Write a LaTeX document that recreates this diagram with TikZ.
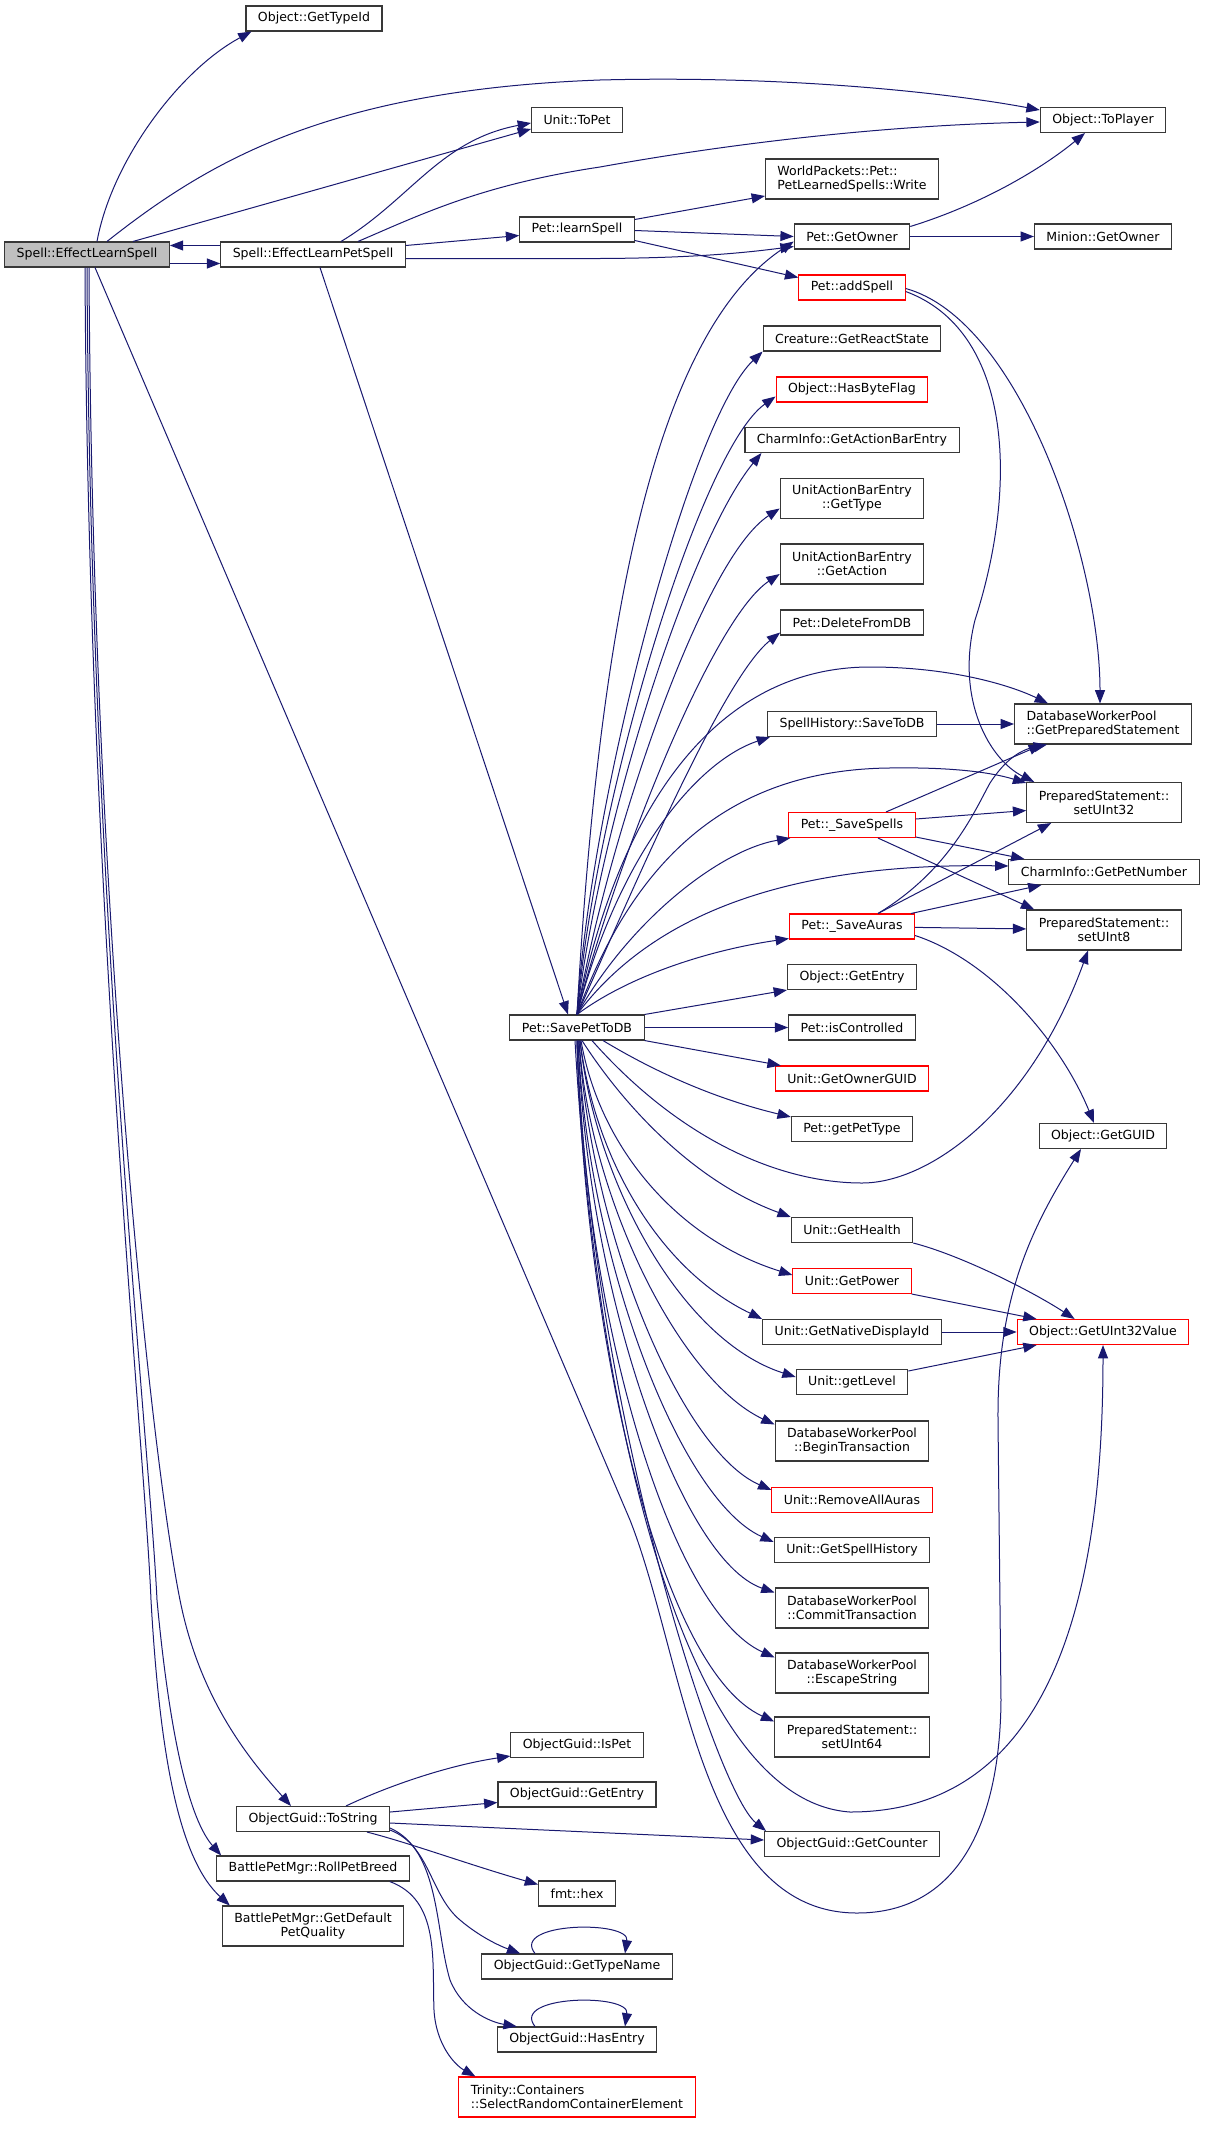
\documentclass[tikz,border=0pt]{standalone}
\usepackage{fontspec}
\setmainfont{DejaVu Sans}
\usetikzlibrary{arrows.meta}
\usetikzlibrary{calc}
\definecolor{edgeBlue}{RGB}{25,25,112}
\definecolor{boxGray}{RGB}{56,56,56}
\definecolor{rootFill}{RGB}{191,191,191}

\begin{document}
\begin{tikzpicture}[x=0.75pt,y=-0.75pt,
  fn/.style={draw=boxGray, fill=white, line width=0.8pt, inner xsep=9pt, inner ysep=2pt, minimum height=18.75pt, font=\fontsize{9.4}{10.5}\selectfont, align=center},
  fnred/.style={fn, draw=red},
  fnroot/.style={fn, fill=rootFill},
  twoline/.style={minimum height=30pt},
  call/.style={draw=edgeBlue, line width=0.75pt, -{Triangle[length=10pt,width=7.5pt]}},
]
\fill [white] (0,0) rectangle (1205,2134);

% column 1 and 2
\node [fnroot] (els) at (87,254.5) {Spell::EffectLearnSpell};
\node [fn] (gettypeid) at (314,18.5) {Object::GetTypeId};
\node [fn] (elps) at (313,254.5) {Spell::EffectLearnPetSpell};
\node [fn] (tostring) at (313,1819) {ObjectGuid::ToString};
\node [fn] (rollbreed) at (313,1868.5) {BattlePetMgr::RollPetBreed};
\node [fn, twoline] (defquality) at (313,1926) {BattlePetMgr::GetDefault\\PetQuality};

% column 3
\node [fn] (topet) at (577,120) {Unit::ToPet};
\node [fn] (learnspell) at (577,229.5) {Pet::learnSpell};
\node [fn] (savepet) at (577,1027.5) {Pet::SavePetToDB};
\node [fn] (ispet) at (577,1745) {ObjectGuid::IsPet};
\node [fn] (guidentry) at (577,1794.5) {ObjectGuid::GetEntry};
\node [fn] (hex) at (577,1893.5) {fmt::hex};
\node [fn] (typename) at (577,1966.5) {ObjectGuid::GetTypeName};
\node [fn] (hasentry) at (577,2039.5) {ObjectGuid::HasEntry};
\node [fnred, twoline, align=left] (selectrandom) at (577,2097) {Trinity::Containers\\::SelectRandomContainerElement};

% column 4
\node [fn, twoline, align=left] (write) at (852,179) {WorldPackets::Pet::\\PetLearnedSpells::Write};
\node [fn] (getowner) at (852,236.5) {Pet::GetOwner};
\node [fnred] (addspell) at (852,287.5) {Pet::addSpell};
\node [fn] (reactstate) at (852,338.5) {Creature::GetReactState};
\node [fnred] (hasbyteflag) at (852,389.5) {Object::HasByteFlag};
\node [fn] (actionbarentry) at (852,440) {CharmInfo::GetActionBarEntry};
\node [fn, twoline] (gettype) at (852,498.5) {UnitActionBarEntry\\::GetType};
\node [fn, twoline] (getaction) at (852,564) {UnitActionBarEntry\\::GetAction};
\node [fn] (deletefromdb) at (852,622.5) {Pet::DeleteFromDB};
\node [fn] (savetodb) at (852,724) {SpellHistory::SaveToDB};
\node [fnred] (savespells) at (852,825) {Pet::\_SaveSpells};
\node [fnred] (saveauras) at (852,926.5) {Pet::\_SaveAuras};
\node [fn] (objentry) at (852,977) {Object::GetEntry};
\node [fn] (iscontrolled) at (852,1027.5) {Pet::isControlled};
\node [fnred] (ownerguid) at (852,1078.5) {Unit::GetOwnerGUID};
\node [fn] (getpettype) at (852,1129) {Pet::getPetType};
\node [fn] (gethealth) at (852,1230) {Unit::GetHealth};
\node [fnred] (getpower) at (852,1281) {Unit::GetPower};
\node [fn] (nativedisplay) at (852,1332) {Unit::GetNativeDisplayId};
\node [fn] (getlevel) at (852,1382) {Unit::getLevel};
\node [fn, twoline] (begintrans) at (852,1441) {DatabaseWorkerPool\\::BeginTransaction};
\node [fnred] (removeauras) at (852,1500) {Unit::RemoveAllAuras};
\node [fn] (spellhistory) at (852,1550) {Unit::GetSpellHistory};
\node [fn, twoline] (committrans) at (852,1608) {DatabaseWorkerPool\\::CommitTransaction};
\node [fn, twoline] (escapestring) at (852,1673) {DatabaseWorkerPool\\::EscapeString};
\node [fn, twoline] (setuint64) at (852,1737) {PreparedStatement::\\setUInt64};
\node [fn] (getcounter) at (852,1844) {ObjectGuid::GetCounter};

% column 5
\node [fn] (toplayer) at (1103,120) {Object::ToPlayer};
\node [fn] (minionowner) at (1103,236.5) {Minion::GetOwner};
\node [fn, twoline, align=left] (prepstmt) at (1103,724) {DatabaseWorkerPool\\::GetPreparedStatement};
\node [fn, twoline] (setuint32) at (1104,802.5) {PreparedStatement::\\setUInt32};
\node [fn] (petnumber) at (1104,872) {CharmInfo::GetPetNumber};
\node [fn, twoline] (setuint8) at (1104,930) {PreparedStatement::\\setUInt8};
\node [fn] (getguid) at (1103,1136) {Object::GetGUID};
\node [fnred] (getuint32) at (1103,1332) {Object::GetUInt32Value};

% Spell::EffectLearnSpell
\draw [call] ($(els.north)+(10,0)$) .. controls (112,160) and (180,70) .. ($(gettypeid.south west)+(6,0)$);
\draw [call] ($(els.north)+(20,0)$) .. controls (210,160) and (330,90) .. (600,80) .. controls (800,75) and (960,95) .. ($(toplayer.west)+(0,-10)$);
\draw [call] ($(els.north)+(46,0)$) -- ($(topet.west)+(0,9)$);
\draw [call] ($(els.east)+(0,9)$) -- ($(elps.west)+(0,9)$);
\draw [call] ($(els.south)+(8,0)$) -- (630,1520) .. controls (685,1660) and (700,1913) .. (857,1913) .. controls (960,1913) and (1000,1820) .. (1001,1700) -- (998,1420) .. controls (997,1300) and (1030,1230) .. ($(getguid.south)+(-22,0)$);
\draw [call] ($(els.south)+(2,0)$) .. controls (92,900) and (150,1450) .. (180,1600) .. controls (200,1700) and (250,1760) .. ($(tostring.north)+(-22,0)$);
\draw [call] (els.south) .. controls (90,900) and (150,1450) .. (157,1600) .. controls (170,1740) and (190,1820) .. ($(rollbreed.north west)+(5,0)$);
\draw [call] ($(els.south)+(-2,0)$) .. controls (88,900) and (145,1450) .. (151,1600) .. controls (160,1760) and (180,1860) .. ($(defquality.north west)+(8,0)$);

% Spell::EffectLearnPetSpell
\draw [call] ($(elps.west)+(0,-9)$) -- ($(els.east)+(0,-9)$);
\draw [call] ($(elps.north)+(28,0)$) .. controls (410,200) and (440,140) .. ($(topet.west)+(0,3)$);
\draw [call] ($(elps.north)+(45,0)$) .. controls (420,215) and (480,185) .. (600,167) .. controls (750,140) and (900,125) .. ($(toplayer.west)+(0,2)$);
\draw [call] ($(elps.east)+(0,-9)$) -- ($(learnspell.west)+(0,6)$);
\draw [call] ($(elps.east)+(0,4)$) -- (600,258.5) .. controls (700,258) and (750,252) .. ($(getowner.west)+(0,10)$);
\draw [call] ($(elps.south)+(7,0)$) -- ($(savepet.north)+(-9,0)$);

% Pet::learnSpell, Pet::GetOwner, Pet::addSpell
\draw [call] ($(learnspell.east)+(0,-10)$) -- ($(write.west)+(0,17)$);
\draw [call] ($(learnspell.east)+(0,1)$) -- (getowner.west);
\draw [call] ($(learnspell.east)+(0,11)$) -- ($(addspell.west)+(0,-10)$);
\draw [call] ($(getowner.east)+(0,-10)$) .. controls (980,205) and (1040,170) .. ($(toplayer.south)+(-18,0)$);
\draw [call] (getowner) -- (minionowner);
\draw [call] ($(addspell.east)+(0,1)$) .. controls (1020,320) and (1100,560) .. ($(prepstmt.north)+(-3,0)$);
\draw [call] ($(addspell.east)+(0,4)$) .. controls (1010,330) and (1020,480) .. (975,620) .. controls (955,700) and (990,760) .. ($(setuint32.north west)+(8,0)$);

% Pet::SavePetToDB, upwards
\draw [call] (savepet.north) .. controls (600,600) and (660,330) .. ($(getowner.west)+(0,5)$);
\draw [call] (savepet.north) .. controls (590,800) and (690,420) .. (reactstate.south west);
\draw [call] (savepet.north) .. controls (595,800) and (700,450) .. ($(hasbyteflag.west)+(0,7)$);
\draw [call] (savepet.north) .. controls (600,820) and (690,540) .. ($(actionbarentry.south west)+(17,0)$);
\draw [call] (savepet.north) .. controls (605,850) and (700,560) .. ($(gettype.west)+(0,10)$);
\draw [call] (savepet.north) .. controls (610,880) and (710,620) .. ($(getaction.west)+(0,10)$);
\draw [call] (savepet.north) .. controls (620,920) and (720,680) .. ($(deletefromdb.west)+(0,10)$);
\draw [call] (savepet.north) .. controls (620,800) and (720,667) .. (870,667) .. controls (950,667) and (1010,685) .. ($(prepstmt.north west)+(34,0)$);
\draw [call] (savepet.north) .. controls (620,850) and (700,760) .. ($(savetodb.south west)+(3,0)$);
\draw [call] (savepet.north) .. controls (630,870) and (720,770) .. (889,768) .. controls (950,767) and (990,772) .. ($(setuint32.north west)+(0,1)$);
\draw [call] (savepet.north) .. controls (630,920) and (720,850) .. ($(savespells.south west)+(2,0)$);
\draw [call] (savepet.north) .. controls (640,930) and (760,862) .. ($(petnumber.west)+(0,-6)$);
\draw [call] (savepet.north) .. controls (630,975) and (710,950) .. ($(saveauras.south west)+(0,-1)$);
\draw [call] (savepet.north east) -- (objentry.south west);
\draw [call] (savepet) -- (iscontrolled);
\draw [call] (savepet.south east) -- ($(ownerguid.north west)+(6,0)$);

% Pet::SavePetToDB, downwards
\draw [call] ($(savepet.south)+(26,0)$) .. controls (660,1075) and (720,1100) .. ($(getpettype.north west)+(0,1)$);
\draw [call] ($(savepet.south)+(15,0)$) .. controls (680,1140) and (780,1183) .. (862,1183) .. controls (930,1183) and (1030,1110) .. ($(setuint8.south)+(-16,0)$);
\draw [call] ($(savepet.south)+(5,0)$) .. controls (620,1100) and (690,1180) .. (gethealth.north west);
\draw [call] ($(savepet.south)+(4,0)$) .. controls (600,1150) and (680,1240) .. ($(getpower.west)+(0,-6)$);
\draw [call] ($(savepet.south)+(3,0)$) .. controls (595,1160) and (660,1270) .. (nativedisplay.north west);
\draw [call] ($(savepet.south)+(3,0)$) .. controls (595,1180) and (680,1340) .. ($(getlevel.west)+(0,-5)$);
\draw [call] ($(savepet.south)+(2,0)$) .. controls (590,1200) and (680,1380) .. ($(begintrans.north west)+(0,4)$);
\draw [call] ($(savepet.south)+(2,0)$) .. controls (590,1230) and (680,1450) .. ($(removeauras.west)+(0,-10)$);
\draw [call] ($(savepet.south)+(1,0)$) .. controls (588,1260) and (680,1500) .. ($(spellhistory.west)+(0,-8)$);
\draw [call] ($(savepet.south)+(1,0)$) .. controls (587,1290) and (680,1560) .. ($(committrans.north west)+(0,5)$);
\draw [call] (savepet.south) .. controls (585,1320) and (670,1610) .. ($(escapestring.north west)+(0,5)$);
\draw [call] (savepet.south) .. controls (585,1340) and (660,1670) .. ($(setuint64.north west)+(0,5)$);
\draw [call] (savepet.south) .. controls (590,1400) and (715,1790) .. ($(getcounter.north west)+(2,0)$);
\draw [call] ($(savepet.south)+(-2,0)$) .. controls (595,1400) and (680,1800) .. (850,1812) .. controls (1050,1812) and (1103,1600) .. (getuint32.south);

% save helpers
\draw [call] (savetodb) -- (prepstmt);
\draw [call] ($(savespells.north)+(34,0)$) -- ($(prepstmt.south west)+(28,0)$);
\draw [call] ($(savespells.east)+(0,-6)$) -- ($(setuint32.west)+(0,8)$);
\draw [call] ($(savespells.east)+(0,12)$) -- ($(petnumber.north west)+(16,0)$);
\draw [call] ($(savespells.south)+(26,0)$) -- ($(setuint8.north west)+(8,0)$);
\draw [call] ($(saveauras.north)+(26,0)$) .. controls (950,870) and (975,810) .. (990,783) .. controls (1005,760) and (1020,750) .. ($(prepstmt.south west)+(33,0)$);
\draw [call] ($(saveauras.north)+(26,0)$) -- ($(setuint32.south west)+(25,0)$);
\draw [call] ($(saveauras.north east)+(-4,0)$) -- ($(petnumber.south west)+(33,0)$);
\draw [call] (saveauras) -- (setuint8);
\draw [call] ($(saveauras.east)+(0,9)$) .. controls (990,960) and (1060,1040) .. ($(getguid.north)+(-9,0)$);

% Object::GetUInt32Value callers
\draw [call] ($(gethealth.east)+(0,13)$) .. controls (960,1255) and (1030,1290) .. ($(getuint32.north west)+(58,0)$);
\draw [call] ($(getpower.east)+(0,13)$) -- ($(getuint32.north west)+(20,0)$);
\draw [call] (nativedisplay) -- (getuint32);
\draw [call] ($(getlevel.east)+(0,-11)$) -- ($(getuint32.south west)+(20,0)$);

% ObjectGuid::ToString
\draw [call] ($(tostring.north)+(33,0)$) .. controls (390,1785) and (450,1765) .. ($(ispet.south west)+(0,-2)$);
\draw [call] ($(tostring.east)+(0,-7)$) -- ($(guidentry.west)+(0,8)$);
\draw [call] ($(tostring.east)+(0,4)$) -- ($(getcounter.west)+(0,-4)$);
\draw [call] ($(tostring.south)+(54,0)$) .. controls (410,1843) and (470,1865) .. ($(hex.north west)+(0,4)$);
\draw [call] ($(tostring.south east)+(0,-2)$) .. controls (430,1845) and (430,1895) .. (460,1920) .. controls (480,1937) and (500,1946) .. ($(typename.north west)+(39,0)$);
\draw [call] ($(tostring.south east)+(0,-4)$) .. controls (440,1850) and (435,1930) .. (450,1980) .. controls (462,2010) and (490,2022) .. ($(hasentry.north west)+(20,0)$);
\draw [call] ($(typename.north)+(-42,0)$) .. controls (510,1922) and (630,1920) .. ($(typename.north)+(48,0)$);
\draw [call] ($(hasentry.north)+(-42,0)$) .. controls (510,1995) and (630,1993) .. ($(hasentry.north)+(48,0)$);

% BattlePetMgr::RollPetBreed
\draw [call] ($(rollbreed.south east)+(-20,0)$) .. controls (440,1900) and (432,1960) .. (434,2010) .. controls (436,2045) and (455,2065) .. ($(selectrandom.north west)+(17,0)$);
\end{tikzpicture}
\end{document}
